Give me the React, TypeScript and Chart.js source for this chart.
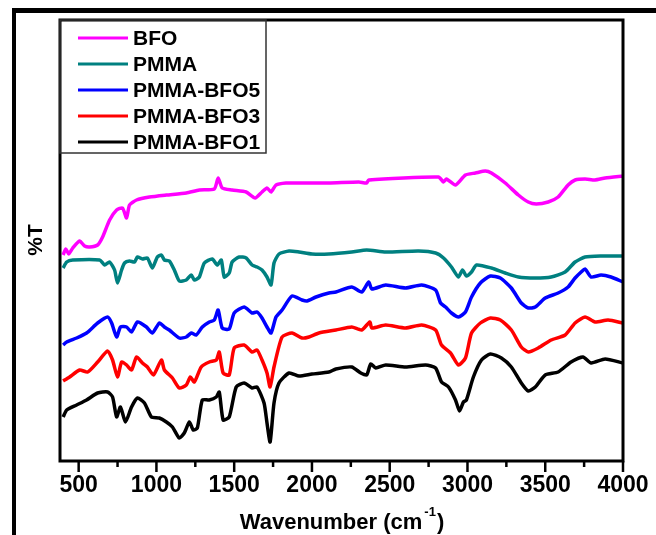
import React, { useEffect, useRef } from "react";
import { Chart, registerables } from "chart.js";

Chart.register(...registerables);

const FONT = "'Liberation Sans', Arial, Helvetica, sans-serif";

const seriesLabels = ["BFO", "PMMA", "PMMA-BFO5", "PMMA-BFO3", "PMMA-BFO1"];
const seriesColors = ["#ff00ff", "#008080", "#0000ff", "#ff0000", "#000000"];

// Wavenumber (cm-1) and transmittance (arbitrary, offset)
const bfoWn = [400, 417, 436, 462, 506, 538, 571, 622, 654, 699, 744, 782, 808, 827, 872, 955, 1064, 1192, 1276, 1372, 1397, 1423, 1487, 1577, 1635, 1679, 1711, 1737, 1769, 1833, 1917, 2109, 2301, 2352, 2365, 2814, 2846, 2865, 2923, 2987, 3051, 3115, 3154, 3243, 3327, 3391, 3442, 3519, 3583, 3647, 3692, 3756, 3820, 3885, 4000];
const bfoT = [206, 212, 207, 213, 220, 215, 214, 216, 224, 241, 251, 253, 243, 256, 261, 264, 266, 268, 271, 272, 283, 273, 271, 269, 263, 269, 273, 269, 276, 278, 278, 278, 279, 278, 281, 284, 279, 282, 276, 286, 288, 290, 288, 278, 266, 259, 257, 259, 264, 276, 281, 282, 281, 283, 285];

const pmmaWn = [400, 423, 462, 635, 667, 699, 731, 750, 776, 795, 827, 859, 878, 910, 942, 974, 1006, 1032, 1051, 1083, 1115, 1147, 1192, 1224, 1244, 1276, 1308, 1359, 1391, 1417, 1436, 1468, 1487, 1532, 1577, 1615, 1647, 1679, 1711, 1737, 1756, 1788, 1853, 1917, 2000, 2109, 2256, 2352, 2474, 2686, 2795, 2846, 2897, 2942, 2968, 2993, 3026, 3058, 3154, 3243, 3327, 3436, 3538, 3628, 3692, 3756, 3859, 4000];
const pmmaT = [193, 199, 201, 201, 196, 199, 191, 178, 191, 198, 200, 199, 204, 202, 203, 193, 204, 206, 201, 200, 191, 180, 181, 186, 181, 184, 198, 202, 196, 201, 184, 188, 199, 204, 203, 196, 194, 191, 184, 176, 198, 207, 210, 209, 207, 207, 209, 211, 209, 210, 208, 203, 194, 184, 191, 185, 189, 196, 193, 188, 184, 183, 184, 189, 199, 204, 205, 205];

const bfo5Wn = [400, 423, 487, 551, 622, 686, 712, 744, 769, 808, 840, 878, 936, 974, 1019, 1051, 1083, 1147, 1192, 1224, 1256, 1295, 1340, 1372, 1397, 1423, 1468, 1500, 1564, 1615, 1647, 1679, 1711, 1737, 1769, 1808, 1872, 1936, 1968, 2026, 2109, 2154, 2256, 2320, 2365, 2385, 2474, 2602, 2705, 2795, 2827, 2859, 2897, 2942, 2987, 3026, 3083, 3147, 3211, 3282, 3346, 3391, 3436, 3500, 3583, 3647, 3692, 3731, 3756, 3795, 3859, 3923, 4000];
const bfo5T = [116, 119, 123, 128, 138, 144, 138, 124, 134, 134, 129, 139, 134, 128, 138, 134, 131, 123, 124, 128, 126, 134, 139, 141, 151, 133, 132, 148, 154, 148, 149, 143, 134, 128, 144, 151, 165, 161, 160, 164, 168, 169, 174, 169, 179, 172, 176, 173, 176, 171, 158, 154, 148, 144, 149, 164, 178, 185, 183, 173, 158, 153, 154, 163, 168, 174, 183, 189, 192, 184, 186, 184, 179];

const bfo3Wn = [400, 442, 506, 558, 622, 686, 718, 750, 776, 808, 840, 872, 910, 942, 981, 1032, 1051, 1103, 1147, 1192, 1218, 1244, 1288, 1340, 1385, 1404, 1429, 1468, 1500, 1564, 1615, 1647, 1679, 1711, 1731, 1756, 1808, 1872, 1936, 1981, 2045, 2154, 2256, 2320, 2372, 2385, 2474, 2602, 2705, 2795, 2833, 2891, 2942, 2987, 3026, 3083, 3147, 3211, 3282, 3346, 3391, 3455, 3538, 3628, 3692, 3756, 3820, 3904, 4000];
const bfo3T = [80, 84, 91, 89, 99, 110, 101, 84, 99, 96, 91, 104, 98, 94, 86, 101, 91, 83, 73, 76, 84, 79, 94, 99, 101, 109, 88, 86, 113, 116, 109, 111, 101, 88, 74, 94, 124, 128, 123, 124, 128, 131, 134, 131, 139, 133, 136, 133, 136, 131, 116, 108, 96, 103, 128, 138, 143, 141, 131, 114, 109, 113, 121, 126, 138, 144, 139, 141, 138];

const bfo1Wn = [400, 423, 487, 551, 622, 686, 718, 744, 769, 801, 840, 878, 923, 968, 1019, 1064, 1103, 1147, 1179, 1212, 1237, 1263, 1295, 1340, 1385, 1404, 1429, 1468, 1513, 1564, 1615, 1647, 1692, 1711, 1731, 1756, 1788, 1853, 1917, 2000, 2109, 2154, 2256, 2314, 2352, 2378, 2410, 2474, 2602, 2731, 2795, 2833, 2878, 2923, 2949, 2974, 2993, 3038, 3090, 3147, 3218, 3282, 3346, 3391, 3436, 3500, 3583, 3666, 3743, 3795, 3885, 4000];
const bfo1T = [44, 51, 56, 61, 68, 69, 64, 44, 54, 39, 54, 63, 58, 44, 43, 39, 34, 23, 28, 39, 31, 33, 61, 61, 64, 69, 41, 44, 74, 78, 73, 74, 58, 38, 19, 58, 78, 88, 85, 87, 89, 92, 94, 88, 86, 97, 93, 96, 94, 96, 93, 79, 74, 61, 50, 59, 61, 84, 101, 107, 103, 94, 78, 70, 74, 86, 89, 99, 104, 98, 102, 98];

const seriesWn = [bfoWn, pmmaWn, bfo5Wn, bfo3Wn, bfo1Wn];
const seriesT = [bfoT, pmmaT, bfo5T, bfo3T, bfo1T];

const xTicks = [500, 750, 1000, 1250, 1500, 1750, 2000, 2250, 2500, 2750, 3000, 3250, 3500, 3750, 4000];
const xMin = 380;
const xMax = 4000;
const yMin = 0;
const yMax = 441;

const decorPlugin = {
  id: "decor",
  afterDraw(chart: any) {
    const ctx = chart.ctx as CanvasRenderingContext2D;
    const a = chart.chartArea;
    ctx.save();
    // outer figure frame (cropped)
    ctx.fillStyle = "#000";
    ctx.fillRect(12, 8, 644, 5);
    ctx.fillRect(12, 8, 4, 527);

    // plot box
    ctx.strokeStyle = "#000";
    ctx.lineWidth = 3;
    ctx.strokeRect(a.left, a.top, a.right - a.left, a.bottom - a.top);

    // x ticks (outward)
    const xs = chart.scales.x;
    ctx.lineWidth = 2.5;
    xTicks.forEach((v) => {
      const px = xs.getPixelForValue(v);
      const len = v % 500 === 0 ? 11 : 6;
      ctx.beginPath();
      ctx.moveTo(px, a.bottom);
      ctx.lineTo(px, a.bottom + len);
      ctx.stroke();
    });

    // legend box
    const lx = a.left;
    const ly = a.top;
    ctx.lineWidth = 1.5;
    ctx.strokeStyle = "#333";
    ctx.strokeRect(lx, ly, 206, 133);
    ctx.font = `bold 21px ${FONT}`;
    ctx.textBaseline = "middle";
    ctx.textAlign = "left";
    chart.data.datasets.forEach((ds: any, i: number) => {
      const cy = ly + 18 + i * 26;
      ctx.strokeStyle = ds.borderColor;
      ctx.lineWidth = 3;
      ctx.beginPath();
      ctx.moveTo(lx + 18, cy);
      ctx.lineTo(lx + 68, cy);
      ctx.stroke();
      ctx.fillStyle = "#000";
      ctx.fillText(ds.label, lx + 73, cy + 1);
    });

    // x title with superscript
    ctx.fillStyle = "#000";
    ctx.textBaseline = "alphabetic";
    const main = "Wavenumber (cm";
    const sup = "-1";
    const close = ")";
    ctx.font = `bold 22px ${FONT}`;
    const w1 = ctx.measureText(main).width;
    const w3 = ctx.measureText(close).width;
    ctx.font = `bold 13px ${FONT}`;
    const w2 = ctx.measureText(sup).width + 3;
    const total = w1 + w2 + w3;
    const x0 = 342 - total / 2;
    ctx.font = `bold 22px ${FONT}`;
    ctx.fillText(main, x0, 529);
    ctx.font = `bold 13px ${FONT}`;
    ctx.fillText(sup, x0 + w1 + 2, 516);
    ctx.font = `bold 22px ${FONT}`;
    ctx.fillText(close, x0 + w1 + w2, 529);

    // y title rotated
    ctx.save();
    ctx.translate(42, 240);
    ctx.rotate(-Math.PI / 2);
    ctx.textAlign = "center";
    ctx.font = `bold 21px ${FONT}`;
    ctx.fillText("%T", 0, 0);
    ctx.restore();

    ctx.restore();
  },
};

export default function App() {
  const canvasRef = useRef<HTMLCanvasElement | null>(null);

  useEffect(() => {
    if (!canvasRef.current) return;
    const chart = new Chart(canvasRef.current, {
      type: "line",
      data: {
        datasets: seriesLabels.map((label, i) => ({
          label,
          data: seriesWn[i].map((x, j) => ({ x, y: seriesT[i][j] })),
          borderColor: seriesColors[i],
          backgroundColor: seriesColors[i],
          borderWidth: 3.5,
          pointRadius: 0,
          tension: 0.2,
          fill: false,
        })),
      },
      options: {
        responsive: false,
        animation: false,
        devicePixelRatio: 1,
        layout: { padding: { left: 60, right: 33, top: 20, bottom: 0 } },
        plugins: {
          legend: { display: false },
          tooltip: { enabled: false },
          title: { display: false },
        },
        scales: {
          x: {
            type: "linear",
            min: xMin,
            max: xMax,
            grid: { display: false, drawTicks: false },
            border: { display: false },
            afterBuildTicks: (ax: any) => {
              ax.ticks = xTicks.map((v) => ({ value: v }));
            },
            afterFit: (ax: any) => {
              ax.height = 74;
              ax.paddingLeft = 0;
              ax.paddingRight = 0;
            },
            ticks: {
              autoSkip: false,
              maxRotation: 0,
              minRotation: 0,
              padding: 11,
              color: "#000",
              font: { family: FONT, size: 23, weight: "bold" },
              callback: (v: any) => (Number(v) % 500 === 0 ? String(v) : ""),
            },
          },
          y: { display: false, min: yMin, max: yMax },
        },
      },
      plugins: [decorPlugin],
    } as any);
    return () => chart.destroy();
  }, []);

  return (
    <div style={{ position: "fixed", left: 0, top: 0, width: 656, height: 535, background: "#fff" }}>
      <canvas ref={canvasRef} width={656} height={535} style={{ display: "block" }} />
    </div>
  );
}
